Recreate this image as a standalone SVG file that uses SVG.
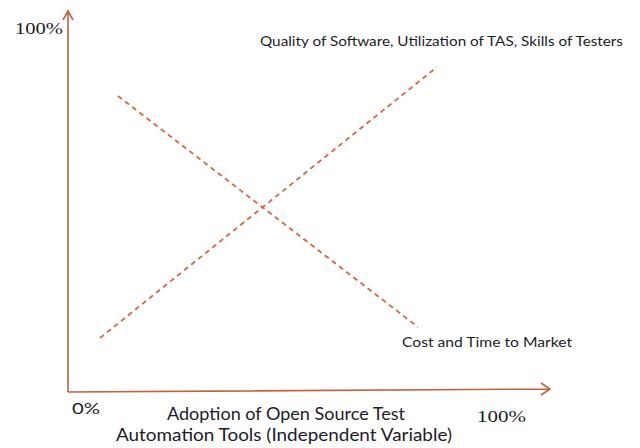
<svg xmlns="http://www.w3.org/2000/svg" width="640" height="448" viewBox="0 0 640 448">
<style>
.axis{stroke:#c4623e;stroke-width:1.6;fill:none}
.dash{stroke:#d06a42;stroke-width:1.8;fill:none;stroke-dasharray:5 4}
.lbl{font-family:Lato,"Open Sans","Liberation Sans",sans-serif;fill:#1c1c28}
.num{font-family:"Liberation Serif",serif;fill:#1c1c28;font-size:16px}
</style>
<rect width="640" height="448" fill="#ffffff"/>
<g id="axes">
<path class="axis" d="M68,392 V11 M63,20 L68,11 L73,20"/>
<path class="axis" d="M68,392 L550,389 M541,383 L550,389 L541,395"/>
</g>
<g id="connectors">
<path class="dash" d="M118,96 L418,327"/>
<path class="dash" d="M100,338 L437,67"/>
</g>
<g id="labels">
<text class="num" x="15" y="34" textLength="48" lengthAdjust="spacingAndGlyphs">100%</text>
<text class="lbl" x="72" y="414" font-size="15" textLength="28" lengthAdjust="spacingAndGlyphs">0%</text>
<text class="num" x="477" y="422" textLength="49" lengthAdjust="spacingAndGlyphs">100%</text>
<text class="lbl" x="260" y="46" font-size="14" textLength="363" lengthAdjust="spacingAndGlyphs">Quality of Software, Utilization of TAS, Skills of Testers</text>
<text class="lbl" x="402" y="347" font-size="14" textLength="170" lengthAdjust="spacingAndGlyphs">Cost and Time to Market</text>
<text class="lbl" x="167" y="420" font-size="16.5" textLength="238" lengthAdjust="spacingAndGlyphs">Adoption of Open Source Test</text>
<text class="lbl" x="116" y="441" font-size="16.5" textLength="336" lengthAdjust="spacingAndGlyphs">Automation Tools (Independent Variable)</text>
</g>
</svg>
